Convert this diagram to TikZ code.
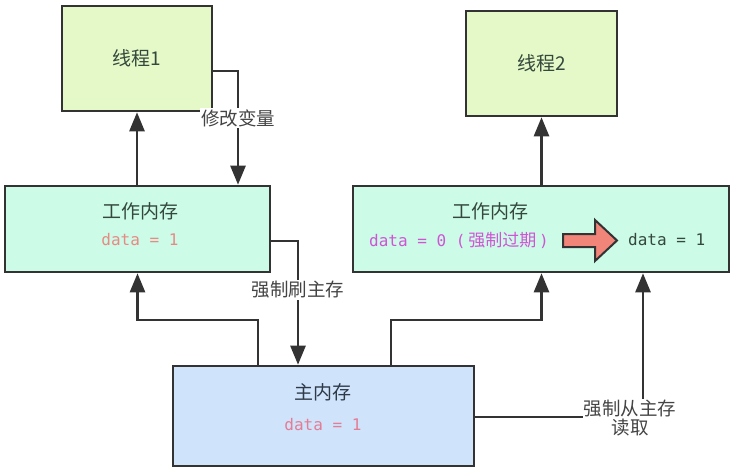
\documentclass[tikz,border=0pt]{standalone}
\usepackage{fontspec}
\setmainfont{Noto Sans CJK SC}
\newfontfamily\cjk{Noto Sans CJK SC}
\newfontfamily\monof{DejaVu Sans Mono}
\usetikzlibrary{arrows.meta,calc}
\pgfdeclarelayer{bgpaper}
\pgfdeclarelayer{background}
\pgfsetlayers{bgpaper,background,main}
\definecolor{linec}{HTML}{333333}
\definecolor{thr}{HTML}{E4F8C8}
\definecolor{wrk}{HTML}{CCFBE8}
\definecolor{mainc}{HTML}{CFE3FA}
\definecolor{txtg}{HTML}{34483C}
\definecolor{txtm}{HTML}{2E3A48}
\definecolor{salmon}{HTML}{E88A84}
\definecolor{pinkd}{HTML}{E47C96}
\definecolor{magen}{HTML}{D054D4}
\definecolor{arrf}{HTML}{F2857A}
\definecolor{lblc}{HTML}{444444}
\tikzset{
  box/.style={draw=linec, line width=2.6pt, inner sep=0pt},
  arr/.style={draw=linec, line width=2.6pt, -{Triangle[length=19pt,width=15pt]}},
  lbl/.style={fill=white, text=lblc, font=\fontsize{18.5}{22}\selectfont, inner sep=1.5pt, align=center},
  head/.style={font=\fontsize{19}{22}\selectfont},
  dat/.style={font=\monof\fontsize{16}{19}\selectfont}
}
\begin{document}
\begin{tikzpicture}[x=1pt,y=-1pt]
\begin{pgfonlayer}{bgpaper}
\useasboundingbox[fill=white] (0,0) rectangle (738,473);
\end{pgfonlayer}
% boxes
\node[box, fill=thr, minimum width=150pt, minimum height=105pt, text=txtg, head] (t1) at (137,58.5) {线程1};
\node[box, fill=thr, minimum width=151pt, minimum height=105pt, text=txtg, head] (t2) at (541.5,63.5) {线程2};
\node[box, fill=wrk, minimum width=265pt, minimum height=86pt] (w1) at (137.5,229) {};
\node[box, fill=wrk, minimum width=376pt, minimum height=86pt] (w2) at (541,229) {};
\node[box, fill=mainc, minimum width=301pt, minimum height=100pt] (m) at (323.5,416) {};
% texts in boxes
\node[head, text=txtg] (w1t) at (140,211) {工作内存};
\node[dat, text=salmon] (w1d) at (140,240) {data = 1};
\node[head, text=txtg] (w2t) at (490,211) {工作内存};
\node[dat, text=magen, anchor=west, inner sep=0pt] (w2d) at (369,240) {data = 0 ({\cjk\fontsize{17}{19}\selectfont\,强制过期\,})};
\node[dat, text=txtg, anchor=west, inner sep=0pt] (w2n) at (628,240) {data = 1};
\node[head, text=txtm] (mt) at (323,392) {主内存};
\node[dat, text=pinkd] (md) at (323,425) {data = 1};
% fat arrow
\draw[draw=linec, line width=2pt, fill=arrf, line join=miter]
  (563,234) -- (595,234) -- (595,220) -- (617,240.5) -- (595,261) -- (595,247) -- (563,247) -- cycle;
% labels
\node[lbl] (l1) at (238,118) {修改变量};
\node[lbl] (l2) at (298,290) {强制刷主存};
\node[lbl, inner sep=1pt] (l3) at (630,418) {强制从主存\\[-3pt]读取};
% coordinates
\coordinate (cA) at (238,71);
\coordinate (cB) at (298,241);
\coordinate (cC) at (258,320);
\coordinate (cD) at (391,320);
\coordinate (cE) at (643,417);
\begin{pgfonlayer}{background}
\draw[arr] (w1.north -| t1.south) -- (t1.south);
\draw[arr] (w2.north -| t2.south) -- (t2.south);
\draw[arr] (t1.east |- cA) -| (w1.north -| cA);
\draw[arr] (w1.east |- cB) -| (m.north -| cB);
\draw[arr] (m.north -| cC) |- (cC -| w1.south) -- (w1.south);
\draw[arr] (m.north -| cD) |- (cD -| t2.south) -- (w2.south -| t2.south);
\draw[arr] (m.east |- cE) -| (w2.south -| cE);
\end{pgfonlayer}
\end{tikzpicture}
\end{document}
